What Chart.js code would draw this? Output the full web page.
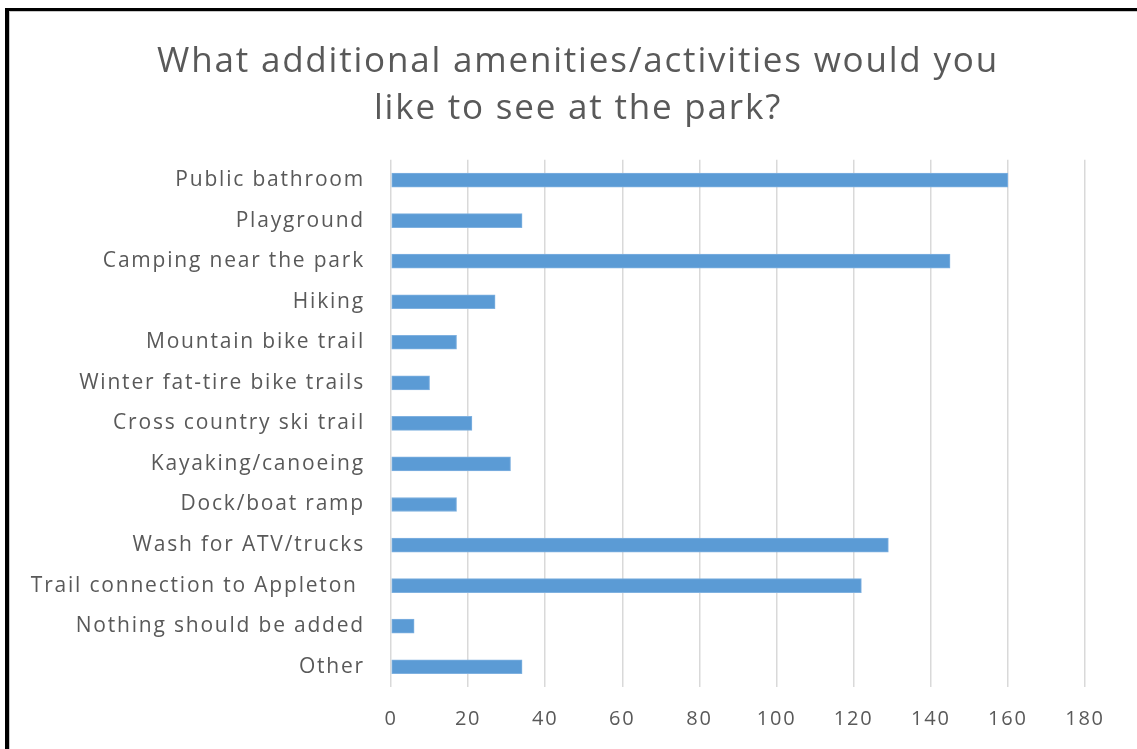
<!DOCTYPE html>
<html>
<head>
<meta charset="utf-8">
<script src="https://cdn.jsdelivr.net/npm/chart.js@4.4.1/dist/chart.umd.min.js"></script>
<style>
    html, body { margin: 0; padding: 0; background: #fff; overflow: hidden; }
    #wrap { position: relative; width: 1137px; height: 749px; }
    #frame {
        position: absolute; left: 5px; top: 8px; width: 1200px; height: 800px;
        border-left: 4px solid #000; border-top: 3px solid #000;
        box-shadow: inset 1px 1px 0 #c8c8c8;
        pointer-events: none;
    }
</style>
</head>
<body>
<div id="wrap">
    <canvas id="chart" width="1137" height="749"></canvas>
    <div id="frame"></div>
</div>
<script>
// Survey answers
const titleLines = ['What additional amenities/activities would you', 'like to see at the park?'];
const categories = [
    'Public bathroom',
    'Playground',
    'Camping near the park',
    'Hiking',
    'Mountain bike trail',
    'Winter fat-tire bike trails',
    'Cross country ski trail',
    'Kayaking/canoeing',
    'Dock/boat ramp',
    'Wash for ATV/trucks',
    'Trail connection to Appleton ',
    'Nothing should be added',
    'Other'
];
const counts = [160, 34, 145, 27, 17, 10, 21, 31, 17, 129, 122, 6, 34];
const tickValues = [0, 20, 40, 60, 80, 100, 120, 140, 160, 180];

const textColor = '#595959';
const fontFamily = '"Open Sans", "DejaVu Sans", sans-serif';

// the original text is set a bit wider than Open Sans, so open it up a little
const letterSpacing = {
    id: 'letterSpacing',
    afterLayout: function(chart) {
        // title is centred over the whole picture, not the left part
        if (chart.titleBlock) chart.titleBlock.left = 71;
    },
    beforeDraw: function(chart) {
        chart.ctx.letterSpacing = '1.8px';
    },
    afterDraw: function(chart) {
        chart.ctx.letterSpacing = '0px';
    }
};

const ctx = document.getElementById('chart').getContext('2d');
new Chart(ctx, {
    type: 'bar',
    data: {
        labels: categories,
        datasets: [{
            data: counts,
            backgroundColor: '#5B9BD5',
            borderColor: '#7FB1E0',
            borderWidth: 1,
            borderSkipped: false,
            barThickness: 14
        }]
    },
    options: {
        indexAxis: 'y',
        responsive: false,
        animation: false,
        layout: {
            padding: { left: 0, right: 52, top: 0, bottom: 0 }
        },
        plugins: {
            legend: { display: false },
            tooltip: { enabled: false },
            title: {
                display: true,
                text: titleLines,
                color: textColor,
                font: { family: fontFamily, size: 35, weight: 'normal', lineHeight: 1.34 },
                padding: { top: 39, bottom: 27 }
            }
        },
        scales: {
            x: {
                min: 0,
                max: 180,
                afterBuildTicks: function(scale) {
                    scale.ticks = tickValues.map(v => ({ value: v }));
                },
                afterFit: function(scale) {
                    scale.height = 62;
                },
                grid: {
                    color: '#d9d9d9',
                    lineWidth: 1.5,
                    drawTicks: false
                },
                border: { display: false },
                ticks: {
                    color: textColor,
                    padding: 20,
                    font: { family: fontFamily, size: 20 }
                }
            },
            y: {
                afterFit: function(scale) {
                    scale.width = 391;
                },
                grid: { display: false, drawTicks: false },
                border: { display: false },
                ticks: {
                    color: textColor,
                    padding: 26,
                    autoSkip: false,
                    font: { family: fontFamily, size: 21 }
                }
            }
        }
    },
    plugins: [letterSpacing]
});
</script>
</body>
</html>
